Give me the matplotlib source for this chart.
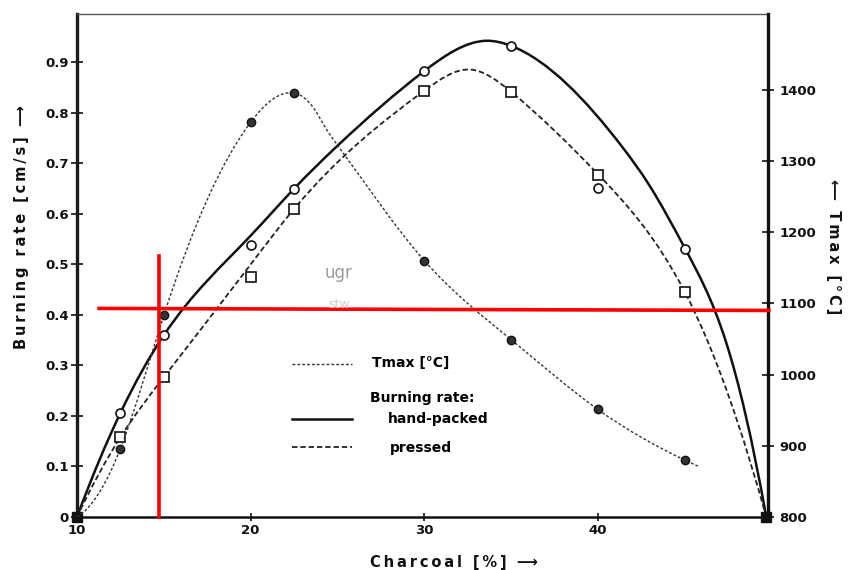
import numpy as np
import matplotlib
matplotlib.use("Agg")
import matplotlib.pyplot as plt
from matplotlib.path import Path
from matplotlib.patches import PathPatch
from matplotlib.lines import Line2D

# measured burning rate [cm/s] vs charcoal content [%]
charcoal = [10, 12.5, 15, 20, 22.5, 30, 35, 40, 45, 49.7]
hand_packed = [0, 0.206, 0.360, 0.539, 0.650, 0.883, 0.933, 0.651, 0.531, 0]
pressed = [0, 0.158, 0.277, 0.475, 0.610, 0.844, 0.842, 0.677, 0.446, 0]

# maximum temperature [°C]
tmax_charcoal = [10, 12.5, 15, 20, 22.5, 30, 35, 40, 45]
tmax = [800, 896, 1083, 1354, 1395, 1160, 1049, 951, 880]

# hand-drawn trend lines (points along each drawn curve)
hand_line_x = [10, 12.5, 15, 20, 22.5, 25, 30, 33.6, 35, 41.4, 43, 45, 47.35, 49.7]
hand_line_y = [0, 0.206, 0.360, 0.557, 0.650, 0.735, 0.883, 0.943, 0.933, 0.733, 0.655, 0.533, 0.350, 0]
pressed_line_x = [10, 12.5, 15, 20, 22.5, 30, 32.65, 35, 40, 45, 46.3, 49.7]
pressed_line_y = [0, 0.158, 0.277, 0.500, 0.610, 0.844, 0.886, 0.842, 0.679, 0.446, 0.350, 0]
tmax_line_x = [10, 12.5, 15, 20, 22.5, 23.6, 24.4, 25, 30, 35, 40, 45, 45.8]
tmax_line_y = [800, 896, 1083, 1354, 1395, 1375, 1343, 1322, 1160, 1049, 951, 880, 871]

x_ticks = [10, 20, 30, 40]
x_ticklabels = ["10", "20", "30", "40"]
rate_ticks = [0, 0.1, 0.2, 0.3, 0.4, 0.5, 0.6, 0.7, 0.8, 0.9]
rate_ticklabels = ["0", "0.1", "0.2", "0.3", "0.4", "0.5", "0.6", "0.7", "0.8", "0.9"]
temp_ticks = [800, 900, 1000, 1100, 1200, 1300, 1400]
temp_ticklabels = ["800", "900", "1000", "1100", "1200", "1300", "1400"]

# red guide lines (burning rate axis units)
guide_v = ([14.73, 14.73], [0, 0.517])
guide_h = ([11.27, 49.85], [0.413, 0.409])

W, H = 848, 570
plt.rcParams["font.family"] = ["DejaVu Sans"]
plt.rcParams["font.weight"] = "bold"


def spline_path(x, y):
    # cubic spline (parabolic run-out ends), pieces drawn as beziers
    x = np.asarray(x, float)
    y = np.asarray(y, float)
    n = len(x)
    h = np.diff(x)
    A = np.zeros((n, n))
    b = np.zeros(n)
    A[0, 0], A[0, 1] = 1, -1
    A[-1, -1], A[-1, -2] = 1, -1
    for i in range(1, n - 1):
        A[i, i - 1] = h[i - 1]
        A[i, i] = 2 * (h[i - 1] + h[i])
        A[i, i + 1] = h[i]
        b[i] = 6 * ((y[i + 1] - y[i]) / h[i] - (y[i] - y[i - 1]) / h[i - 1])
    M = np.linalg.solve(A, b)
    verts = [(x[0], y[0])]
    codes = [Path.MOVETO]
    for i in range(n - 1):
        s = (y[i + 1] - y[i]) / h[i]
        d0 = s - h[i] * (2 * M[i] + M[i + 1]) / 6
        d1 = s + h[i] * (M[i] + 2 * M[i + 1]) / 6
        verts += [(x[i] + h[i] / 3, y[i] + d0 * h[i] / 3),
                  (x[i + 1] - h[i] / 3, y[i + 1] - d1 * h[i] / 3),
                  (x[i + 1], y[i + 1])]
        codes += [Path.CURVE4] * 3
    return Path(verts, codes)


def spaced(s):
    return "\u2009".join(s)


def fx(px):
    return px / W


def fy(py):
    return 1 - py / H


hand_style = dict(lw=1.8, color="#111111")
pressed_style = dict(lw=1.3, color="#222222", linestyle=(0, (3, 1.6)))
tmax_style = dict(lw=1.0, color="#333333", linestyle=(0, (2, 1.5)))

fig = plt.figure(figsize=(W / 100, H / 100), dpi=100)
ax = fig.add_axes([fx(77), fy(517), 691 / W, 503 / H])
ax2 = ax.twinx()

ax.set_xlim(10, 49.8)
ax.set_ylim(0, 0.996)
ax2.set_ylim(800, 1506)

# burning rate curves
ax.add_patch(PathPatch(spline_path(hand_line_x, hand_line_y), fill=False,
                       capstyle="round", **hand_style))
ax.add_patch(PathPatch(spline_path(pressed_line_x, pressed_line_y),
                       fill=False, **pressed_style))
ax.plot(charcoal[1:-1], hand_packed[1:-1], "o", ms=6.5, mfc="white",
        mec="#111111", mew=1.2, zorder=4)
ax.plot(charcoal[1:-1], pressed[1:-1], "s", ms=6.5, mfc="white",
        mec="#111111", mew=1.2, zorder=4)
ax.plot([charcoal[0], charcoal[-1]], [0, 0], "s", ms=7, color="#111111",
        clip_on=False, zorder=5)

# temperature curve
ax2.add_patch(PathPatch(spline_path(tmax_line_x, tmax_line_y), fill=False,
                        **tmax_style))
ax2.plot(tmax_charcoal[1:], tmax[1:], "o", ms=6, mfc="#333333",
         mec="#111111", mew=1, zorder=4)

# red guides on top
ax2.plot(*guide_v, color="#ff0000", lw=2.6, transform=ax.transData,
         clip_on=False, zorder=6)
ax2.plot(*guide_h, color="#ff0000", lw=2.6, transform=ax.transData,
         clip_on=False, zorder=6)

# axes styling
for s in ["left", "bottom", "top", "right"]:
    ax.spines[s].set_visible(False)
    ax2.spines[s].set_visible(False)
ax.spines["left"].set_visible(True)
ax.spines["left"].set_linewidth(2.4)
ax.spines["left"].set_color("#1a1a1a")
ax.spines["bottom"].set_visible(True)
ax.spines["bottom"].set_linewidth(1.8)
ax.spines["bottom"].set_color("#111111")
ax.spines["top"].set_visible(True)
ax.spines["top"].set_linewidth(1.0)
ax.spines["top"].set_color("#555555")
ax2.spines["right"].set_visible(True)
ax2.spines["right"].set_linewidth(2.4)
ax2.spines["right"].set_color("#111111")

ax.set_xticks(x_ticks)
ax.set_xticklabels(x_ticklabels)
ax.set_yticks(rate_ticks)
ax.set_yticklabels(rate_ticklabels)
ax2.set_yticks(temp_ticks)
ax2.set_yticklabels(temp_ticklabels)

ax.tick_params(axis="x", direction="inout", length=6, width=1.2, pad=2,
               labelsize=9.5, colors="#111111")
ax.tick_params(axis="y", direction="inout", length=8, width=1.2, pad=2,
               labelsize=9.5, colors="#111111")
ax2.tick_params(axis="y", direction="inout", length=8, width=1.2, pad=4,
                labelsize=9.5, colors="#111111")

# axis titles
fig.text(fx(454), fy(562), spaced("Charcoal [%]") + "  \u27f6", ha="center",
         va="center", fontsize=10.5, color="#111111")
fig.text(fx(22), fy(227), spaced("Burning rate [cm/s]") + "  \u27f6",
         rotation=90, ha="center", va="center", fontsize=10.5, color="#111111")
fig.text(fx(833), fy(247), "\u27f5  " + spaced("Tmax [°C]"),
         rotation=270, ha="center", va="center", fontsize=10.5, color="#111111")

# key
for py, style in [(364, tmax_style), (419, hand_style), (447, pressed_style)]:
    fig.add_artist(Line2D([fx(292), fx(352)], [fy(py), fy(py)],
                          transform=fig.transFigure, **style))
fig.text(fx(372), fy(363), "Tmax [°C]", va="center", fontsize=10)
fig.text(fx(370), fy(398), "Burning rate:", va="center", fontsize=10)
fig.text(fx(388), fy(419), "hand-packed", va="center", fontsize=10)
fig.text(fx(390), fy(448), "pressed", va="center", fontsize=10)

# faint pencil marks
fig.text(fx(325), fy(273), "ugr", va="center", fontsize=12,
         color="#9a9a9a", fontweight="normal")
fig.text(fx(328), fy(304), "stw", va="center", fontsize=9,
         color="#cccccc", fontweight="normal")

fig.savefig("out.png", dpi=100)
